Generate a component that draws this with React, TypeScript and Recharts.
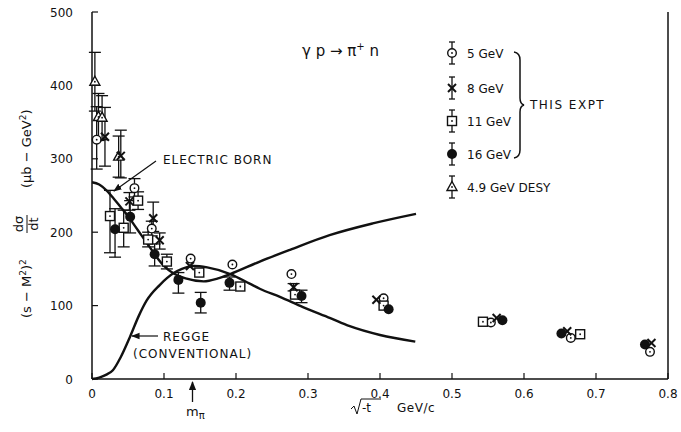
import React from 'react';
import { ComposedChart, Line, Scatter, ErrorBar, XAxis, YAxis } from 'recharts';

// plot box in page pixels
const BOX = { left: 92, top: 12, right: 668, bottom: 379 };
const INK = '#111';
const FONT = '"DejaVu Sans", sans-serif';

const xTicks = [0, 0.1, 0.2, 0.3, 0.4, 0.5, 0.6, 0.7, 0.8];
const yTicks = [0, 100, 200, 300, 400, 500];

// theory curves, sqrt(-t) in GeV/c vs (s-M^2)^2 dsigma/dt
const bornCurve = [
  { t: 0, v: 268 }, { t: 0.01, v: 265 }, { t: 0.02, v: 257 }, { t: 0.03, v: 246 },
  { t: 0.04, v: 234 }, { t: 0.05, v: 222 }, { t: 0.06, v: 208 }, { t: 0.07, v: 194 },
  { t: 0.08, v: 180 }, { t: 0.09, v: 166 }, { t: 0.1, v: 154 }, { t: 0.113, v: 144 },
  { t: 0.13, v: 137 }, { t: 0.155, v: 133 }, { t: 0.175, v: 137 }, { t: 0.192, v: 143 },
  { t: 0.233, v: 160 }, { t: 0.275, v: 176 }, { t: 0.33, v: 196 }, { t: 0.39, v: 212 },
  { t: 0.45, v: 225 },
];

const reggeCurve = [
  { t: 0, v: 0 }, { t: 0.01, v: 2 }, { t: 0.02, v: 6 }, { t: 0.029, v: 12 },
  { t: 0.04, v: 30 }, { t: 0.053, v: 58 }, { t: 0.065, v: 86 }, { t: 0.076, v: 107 },
  { t: 0.094, v: 128 }, { t: 0.113, v: 144 }, { t: 0.125, v: 150 }, { t: 0.141, v: 154 },
  { t: 0.16, v: 152 }, { t: 0.192, v: 143 }, { t: 0.219, v: 130 }, { t: 0.233, v: 123 },
  { t: 0.261, v: 112 }, { t: 0.293, v: 98 }, { t: 0.331, v: 83 }, { t: 0.358, v: 72 },
  { t: 0.4, v: 60 }, { t: 0.449, v: 51 },
];

// measurements, err = [down, up]
const gev5 = [
  { t: 0.0065, v: 326, err: [40, 45] },
  { t: 0.059, v: 260, err: [12, 13] },
  { t: 0.083, v: 205, err: [10, 10] },
  { t: 0.137, v: 164, err: null },
  { t: 0.195, v: 156, err: null },
  { t: 0.277, v: 143, err: null },
  { t: 0.405, v: 110, err: null },
  { t: 0.554, v: 77, err: null },
  { t: 0.665, v: 56, err: null },
  { t: 0.775, v: 37, err: null },
];

const gev8 = [
  { t: 0.018, v: 330, err: [40, 40] },
  { t: 0.04, v: 304, err: [30, 35] },
  { t: 0.052, v: 242, err: [12, 12] },
  { t: 0.085, v: 219, err: [18, 22] },
  { t: 0.094, v: 189, err: [12, 10] },
  { t: 0.136, v: 154, err: null },
  { t: 0.28, v: 125, err: [5, 5] },
  { t: 0.395, v: 108, err: null },
  { t: 0.562, v: 83, err: null },
  { t: 0.66, v: 65, err: null },
  { t: 0.777, v: 49, err: null },
];

const gev11 = [
  { t: 0.025, v: 222, err: [50, 35] },
  { t: 0.044, v: 206, err: [26, 24] },
  { t: 0.064, v: 243, err: [12, 12] },
  { t: 0.078, v: 190, err: [10, 10] },
  { t: 0.104, v: 160, err: [10, 10] },
  { t: 0.149, v: 145, err: null },
  { t: 0.206, v: 126, err: null },
  { t: 0.282, v: 115, err: null },
  { t: 0.405, v: 100, err: null },
  { t: 0.543, v: 78, err: null },
  { t: 0.678, v: 61, err: null },
];

const gev16 = [
  { t: 0.032, v: 204, err: [38, 28] },
  { t: 0.053, v: 221, err: [22, 22] },
  { t: 0.087, v: 170, err: [16, 14] },
  { t: 0.12, v: 135, err: [18, 10] },
  { t: 0.151, v: 104, err: [14, 14] },
  { t: 0.191, v: 131, err: [10, 8] },
  { t: 0.291, v: 113, err: [9, 8] },
  { t: 0.412, v: 95, err: null },
  { t: 0.57, v: 80, err: null },
  { t: 0.652, v: 62, err: null },
  { t: 0.768, v: 47, err: null },
];

const desy = [
  { t: 0.004, v: 405, err: [40, 40] },
  { t: 0.009, v: 357, err: [32, 32] },
  { t: 0.014, v: 356, err: [30, 30] },
  { t: 0.037, v: 303, err: [28, 28] },
];

const legendItems = ['5 GeV', '8 GeV', '11 GeV', '16 GeV', '4.9 GeV  DESY'];

// marker shapes
const OpenCircle = ({ cx, cy }: any) => (
  <g>
    <circle cx={cx} cy={cy} r={4.3} fill="#fff" stroke={INK} strokeWidth={1.4} />
    <circle cx={cx} cy={cy} r={0.9} fill={INK} />
  </g>
);

const Cross = ({ cx, cy }: any) => (
  <g stroke={INK} strokeWidth={2}>
    <line x1={cx - 4} y1={cy - 4} x2={cx + 4} y2={cy + 4} />
    <line x1={cx - 4} y1={cy + 4} x2={cx + 4} y2={cy - 4} />
  </g>
);

const OpenSquare = ({ cx, cy }: any) => (
  <g>
    <rect x={cx - 4.5} y={cy - 4.5} width={9} height={9} fill="#fff" stroke={INK} strokeWidth={1.4} />
    <circle cx={cx} cy={cy} r={0.9} fill={INK} />
  </g>
);

const FilledCircle = ({ cx, cy }: any) => <circle cx={cx} cy={cy} r={5} fill={INK} />;

const OpenTriangle = ({ cx, cy }: any) => (
  <g>
    <path d={`M${cx},${cy - 5.5} L${cx + 5},${cy + 3.5} L${cx - 5},${cy + 3.5} Z`} fill="#fff" stroke={INK} strokeWidth={1.4} />
    <circle cx={cx} cy={cy} r={0.9} fill={INK} />
  </g>
);

const legendShapes = [OpenCircle, Cross, OpenSquare, FilledCircle, OpenTriangle];
const legendY = [53, 88, 121, 154, 187];

// inward ticks with labels
const XTick = ({ x, payload }: any) => (
  <g>
    <line x1={x} x2={x} y1={BOX.bottom} y2={BOX.bottom - 6} stroke={INK} strokeWidth={1.2} />
    <text x={x} y={398} textAnchor="middle" fontSize={12} fontFamily={FONT} fill={INK}>
      {payload.value === 0 ? '0' : payload.value.toFixed(1)}
    </text>
  </g>
);

const YTickLeft = ({ y, payload }: any) => (
  <g>
    <line x1={BOX.left} x2={BOX.left + 6} y1={y} y2={y} stroke={INK} strokeWidth={1.2} />
    <text x={73} y={y + 4.5} textAnchor="end" fontSize={12} fontFamily={FONT} fill={INK}>
      {payload.value}
    </text>
  </g>
);

const YTickRight = ({ y }: any) => (
  <line x1={BOX.right} x2={BOX.right - 6} y1={y} y2={y} stroke={INK} strokeWidth={1.2} />
);

const errProps = { dataKey: 'err', direction: 'y' as const, width: 6, stroke: INK, strokeWidth: 1.3 };

function Annotations() {
  const txt = { fontFamily: FONT, fill: INK, fontSize: 12, letterSpacing: 1 };
  return (
    <svg width={681} height={432} style={{ position: 'absolute', left: 0, top: 0, pointerEvents: 'none' }}>
      <defs>
        <marker id="head" viewBox="0 0 10 10" refX="9" refY="5" markerWidth="7" markerHeight="7" orient="auto-start-reverse">
          <path d="M0,1 L10,5 L0,9 Z" fill={INK} />
        </marker>
      </defs>

      {/* reaction */}
      <text x={302} y={56} fontFamily={FONT} fontSize={15} fill={INK}>
        γ p → π<tspan dy={-6} fontSize={10}>+</tspan><tspan dy={6}> n</tspan>
      </text>

      {/* legend */}
      {legendItems.map((label, i) => {
        const Shape = legendShapes[i];
        const y = legendY[i];
        return (
          <g key={label}>
            <g stroke={INK} strokeWidth={1.3}>
              <line x1={452} x2={452} y1={y - 11} y2={y + 11} />
              <line x1={449} x2={455} y1={y - 11} y2={y - 11} />
              <line x1={449} x2={455} y1={y + 11} y2={y + 11} />
            </g>
            <Shape cx={452} cy={y} />
            <text x={467} y={y + 4.5} fontFamily={FONT} fill={INK} fontSize={12}>{label}</text>
          </g>
        );
      })}
      <path
        d="M514,52 Q520,53 520,60 L520,98 Q520,104 524,105 Q520,106 520,112 L520,150 Q520,157 514,158"
        fill="none" stroke={INK} strokeWidth={1.5}
      />
      <text x={530} y={109} {...txt} letterSpacing={1.5}>THIS  EXPT</text>

      {/* curve labels */}
      <text x={163} y={164} {...txt}>ELECTRIC  BORN</text>
      <line x1={156} y1={161} x2={114} y2={191} stroke={INK} strokeWidth={1.2} markerEnd="url(#head)" />
      <text x={163} y={341} {...txt}>REGGE</text>
      <text x={133} y={358} {...txt}>(CONVENTIONAL)</text>
      <line x1={158} y1={336} x2={132} y2={336} stroke={INK} strokeWidth={1.2} markerEnd="url(#head)" />

      {/* pion mass marker */}
      <line x1={192.5} y1={402} x2={192.5} y2={382} stroke={INK} strokeWidth={1.3} markerEnd="url(#head)" />
      <text x={186} y={416} fontFamily={FONT} fontSize={13} fill={INK}>
        m<tspan dy={3} fontSize={10}>π</tspan>
      </text>

      {/* x axis title */}
      <g fontFamily={FONT} fontSize={12} fill={INK}>
        <path d="M351,409 L354,406 L357,414 L361,399 L381,399" fill="none" stroke={INK} strokeWidth={1} />
        <text x={362} y={412}>-t</text>
        <text x={397} y={412} letterSpacing={0.5}>GeV/c</text>
      </g>

      {/* y axis title, rotated */}
      <g transform="translate(31,0) rotate(-90)" fontFamily={FONT} fill={INK}>
        <text x={-318} y={0} fontSize={13}>
          (s − M<tspan dy={-5} fontSize={9}>2</tspan><tspan dy={5}>)</tspan><tspan dy={-5} fontSize={9}>2</tspan>
        </text>
        <text x={-224} y={-8} fontSize={13} textAnchor="middle">dσ</text>
        <line x1={-233} x2={-215} y1={-4} y2={-4} stroke={INK} strokeWidth={1} />
        <text x={-224} y={7} fontSize={13} textAnchor="middle">dt</text>
        <text x={-188} y={0} fontSize={13}>
          (μb − GeV<tspan dy={-5} fontSize={9}>2</tspan><tspan dy={5}>)</tspan>
        </text>
      </g>
    </svg>
  );
}

export default function App() {
  return (
    <div style={{ position: 'absolute', left: 0, top: 0, width: 681, height: 432, background: '#fff' }}>
      <ComposedChart
        width={681}
        height={432}
        margin={{ top: BOX.top, right: 681 - BOX.right - 20, bottom: 432 - BOX.bottom - 30, left: BOX.left - 40 }}
      >
        <XAxis
          dataKey="t"
          type="number"
          domain={[0, 0.8]}
          ticks={xTicks}
          interval={0}
          height={30}
          axisLine={{ stroke: INK, strokeWidth: 1.5 }}
          tickLine={false}
          tick={<XTick />}
        />
        <YAxis
          type="number"
          domain={[0, 500]}
          ticks={yTicks}
          interval={0}
          width={40}
          axisLine={{ stroke: INK, strokeWidth: 1.5 }}
          tickLine={false}
          tick={<YTickLeft />}
        />
        <YAxis
          yAxisId="right"
          orientation="right"
          type="number"
          domain={[0, 500]}
          ticks={yTicks}
          interval={0}
          width={20}
          axisLine={{ stroke: INK, strokeWidth: 1.5 }}
          tickLine={false}
          tick={<YTickRight />}
        />

        <Line data={bornCurve} dataKey="v" type="monotone" stroke={INK} strokeWidth={2.4} dot={false} isAnimationActive={false} />
        <Line data={reggeCurve} dataKey="v" type="monotone" stroke={INK} strokeWidth={2.4} dot={false} isAnimationActive={false} />

        <Scatter data={desy} dataKey="v" shape={OpenTriangle} isAnimationActive={false}>
          <ErrorBar {...errProps} />
        </Scatter>
        <Scatter data={gev5} dataKey="v" shape={OpenCircle} isAnimationActive={false}>
          <ErrorBar {...errProps} />
        </Scatter>
        <Scatter data={gev11} dataKey="v" shape={OpenSquare} isAnimationActive={false}>
          <ErrorBar {...errProps} />
        </Scatter>
        <Scatter data={gev16} dataKey="v" shape={FilledCircle} isAnimationActive={false}>
          <ErrorBar {...errProps} />
        </Scatter>
        <Scatter data={gev8} dataKey="v" shape={Cross} isAnimationActive={false}>
          <ErrorBar {...errProps} />
        </Scatter>
      </ComposedChart>
      <Annotations />
    </div>
  );
}
